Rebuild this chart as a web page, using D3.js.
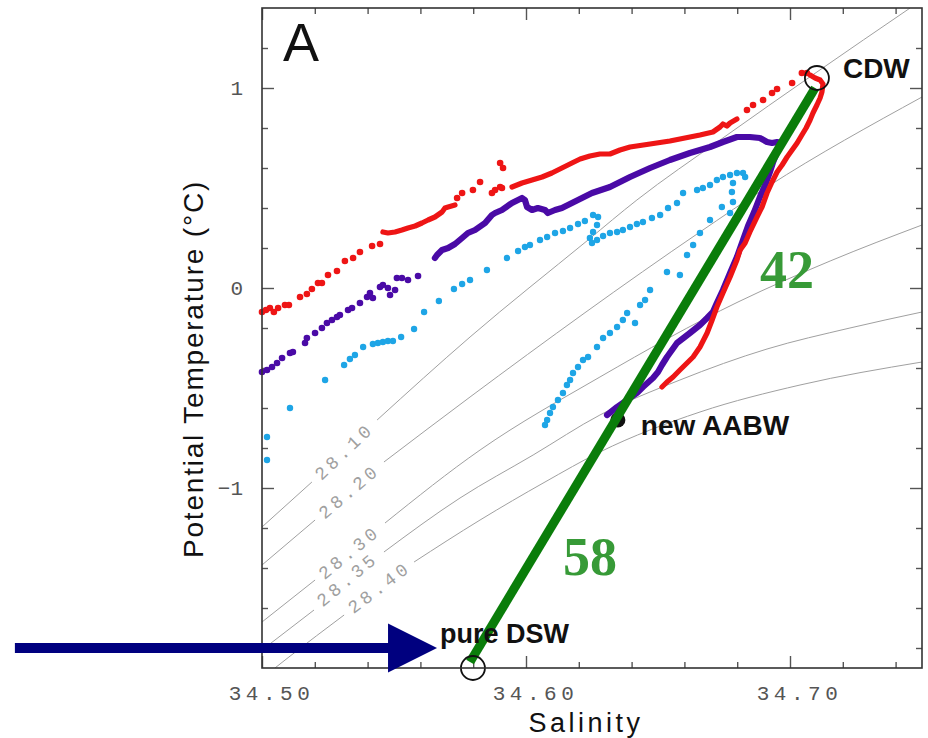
<!DOCTYPE html>
<html>
<head>
<meta charset="utf-8">
<script src="https://cdn.jsdelivr.net/npm/d3@7"></script>
<style>
  body { margin: 0; background: #fff; }
</style>
</head>
<body>
<div id="chart"></div>
<script>
// Theta-S diagram, panel A

// axis ticks
var xMajor = [34.50, 34.60, 34.70];
var xMinor = [34.52, 34.54, 34.56, 34.58, 34.62, 34.64, 34.66, 34.68, 34.72, 34.74];
var yMajor = [-1, 0, 1];
var yMinor = [-1.8, -1.6, -1.4, -1.2, -0.8, -0.6, -0.4, -0.2, 0.2, 0.4, 0.6, 0.8, 1.2];

// isopycnals [salinity, theta], split round the label
var isoLabels = ["28.10", "28.20", "28.30", "28.35", "28.40"];
var isoLower = [
  [[34.5000, -1.195], [34.5189, -0.970]],
  [[34.5000, -1.385], [34.5201, -1.160]],
  [[34.5000, -1.670], [34.5201, -1.460]],
  [[34.5000, -1.810], [34.5197, -1.610]],
  [[34.5049, -1.900], [34.5102, -1.845], [34.5311, -1.635]]
];
var isoUpper = [
  [[34.5436, -0.660], [34.5788, -0.245], [34.6235, 0.240], [34.6420, 0.440], [34.6735, 0.740], [34.7102, 1.080], [34.7455, 1.400]],
  [[34.5462, -0.870], [34.5788, -0.545], [34.6659, 0.280], [34.6913, 0.505], [34.7500, 0.955]],
  [[34.5466, -1.175], [34.5826, -0.810], [34.6280, -0.445], [34.6803, -0.070], [34.7152, 0.135], [34.7500, 0.315]],
  [[34.5462, -1.320], [34.5750, -1.050], [34.6027, -0.835], [34.6280, -0.635], [34.6583, -0.460], [34.6913, -0.305], [34.7227, -0.200], [34.7500, -0.120]],
  [[34.5576, -1.370], [34.5826, -1.160], [34.6072, -0.970], [34.6280, -0.820], [34.6659, -0.620], [34.7038, -0.485], [34.7500, -0.370]]
];
var isoLabelAt = [[34.5314, -0.820], [34.5333, -1.020], [34.5333, -1.325], [34.5326, -1.460], [34.5447, -1.500]];

// red profile
var redDots = [
  [34.5000, -0.120], [34.5015, -0.110], [34.5030, -0.100], [34.5045, -0.120], [34.5061, -0.100],
  [34.5087, -0.085], [34.5102, -0.085], [34.5144, -0.045], [34.5170, -0.030], [34.5189, -0.005],
  [34.5212, 0.025], [34.5227, 0.025], [34.5250, 0.065], [34.5284, 0.085], [34.5314, 0.135],
  [34.5345, 0.150], [34.5371, 0.180], [34.5417, 0.210], [34.5447, 0.220],
  [34.5739, 0.450], [34.5758, 0.475], [34.5799, 0.490], [34.5826, 0.530], [34.5871, 0.475],
  [34.5883, 0.490], [34.5902, 0.505], [34.5909, 0.500], [34.5902, 0.625], [34.5913, 0.600],
  [34.6837, 0.890], [34.6860, 0.915], [34.6898, 0.940], [34.6932, 0.975], [34.6951, 0.995],
  [34.7008, 1.025], [34.7045, 1.075], [34.7064, 1.075]
];
var redTrails = [
  [[34.5458, 0.280], [34.5477, 0.275], [34.5504, 0.280], [34.5530, 0.290], [34.5553, 0.300],
   [34.5580, 0.310], [34.5606, 0.325], [34.5629, 0.340], [34.5655, 0.355], [34.5682, 0.380],
   [34.5693, 0.400], [34.5705, 0.405], [34.5731, 0.415]],
  [[34.5947, 0.505], [34.5985, 0.525], [34.6023, 0.540], [34.6061, 0.555], [34.6098, 0.575],
   [34.6136, 0.600], [34.6174, 0.625], [34.6205, 0.645], [34.6242, 0.660], [34.6280, 0.670],
   [34.6318, 0.670], [34.6356, 0.690], [34.6394, 0.705], [34.6470, 0.720], [34.6545, 0.735],
   [34.6621, 0.755], [34.6659, 0.765], [34.6708, 0.780], [34.6735, 0.805], [34.6746, 0.820],
   [34.6761, 0.810], [34.6773, 0.825], [34.6799, 0.845]],
  [[34.7076, 1.065], [34.7095, 1.050], [34.7114, 1.040], [34.7125, 1.020], [34.7121, 0.980],
   [34.7114, 0.950], [34.7102, 0.915], [34.7087, 0.875], [34.7076, 0.840], [34.7061, 0.800],
   [34.7045, 0.765], [34.7027, 0.725], [34.7008, 0.690], [34.6989, 0.655], [34.6970, 0.615],
   [34.6951, 0.580], [34.6932, 0.530], [34.6913, 0.475], [34.6894, 0.405], [34.6875, 0.355],
   [34.6848, 0.280], [34.6830, 0.225], [34.6811, 0.190], [34.6799, 0.140], [34.6773, 0.055],
   [34.6746, -0.025], [34.6723, -0.095], [34.6705, -0.160], [34.6686, -0.225], [34.6659, -0.295],
   [34.6633, -0.345], [34.6610, -0.375], [34.6583, -0.410], [34.6557, -0.445], [34.6534, -0.470],
   [34.6515, -0.495]]
];

// purple profile
var purpleDots = [
  [34.5000, -0.420], [34.5019, -0.410], [34.5038, -0.395], [34.5057, -0.375], [34.5076, -0.350],
  [34.5106, -0.325], [34.5117, -0.320], [34.5163, -0.275], [34.5170, -0.250], [34.5201, -0.225],
  [34.5227, -0.200], [34.5246, -0.175], [34.5265, -0.160], [34.5284, -0.145], [34.5295, -0.135],
  [34.5326, -0.110], [34.5341, -0.100], [34.5371, -0.075], [34.5398, -0.045], [34.5409, -0.025],
  [34.5420, -0.050], [34.5447, 0.005], [34.5458, 0.015], [34.5477, 0.000], [34.5485, -0.035],
  [34.5504, -0.010], [34.5511, 0.050], [34.5530, 0.050], [34.5553, 0.040], [34.5591, 0.060]
];
var purpleTrail = [
  [34.5655, 0.150], [34.5663, 0.165], [34.5682, 0.190], [34.5705, 0.200], [34.5731, 0.220],
  [34.5758, 0.250], [34.5780, 0.275], [34.5807, 0.290], [34.5845, 0.325], [34.5871, 0.365],
  [34.5883, 0.375], [34.5909, 0.390], [34.5947, 0.425], [34.5985, 0.450], [34.5996, 0.440],
  [34.6004, 0.405], [34.6023, 0.390], [34.6045, 0.400], [34.6072, 0.390], [34.6083, 0.375],
  [34.6110, 0.390], [34.6136, 0.400], [34.6174, 0.425], [34.6212, 0.450], [34.6250, 0.475],
  [34.6318, 0.505], [34.6394, 0.555], [34.6470, 0.600], [34.6545, 0.640], [34.6621, 0.675],
  [34.6697, 0.705], [34.6746, 0.730], [34.6799, 0.755], [34.6848, 0.755], [34.6886, 0.750],
  [34.6913, 0.730], [34.6932, 0.725], [34.6951, 0.730], [34.6962, 0.725], [34.6951, 0.680],
  [34.6936, 0.630], [34.6924, 0.580], [34.6909, 0.525], [34.6886, 0.455], [34.6864, 0.380],
  [34.6841, 0.310], [34.6822, 0.240], [34.6799, 0.155], [34.6773, 0.075], [34.6746, -0.010],
  [34.6723, -0.075], [34.6708, -0.120], [34.6686, -0.150], [34.6659, -0.185], [34.6621, -0.225],
  [34.6572, -0.275], [34.6534, -0.345], [34.6515, -0.385], [34.6500, -0.420], [34.6481, -0.450],
  [34.6443, -0.495], [34.6420, -0.525], [34.6383, -0.560], [34.6345, -0.595], [34.6307, -0.635]
];

// light blue profile
var cyanDots = [
  [34.5019, -0.745], [34.5019, -0.860], [34.5106, -0.600], [34.5239, -0.460], [34.5311, -0.385],
  [34.5333, -0.355], [34.5352, -0.335], [34.5383, -0.295], [34.5420, -0.280], [34.5439, -0.275],
  [34.5458, -0.270], [34.5477, -0.265], [34.5496, -0.265], [34.5527, -0.245], [34.5576, -0.205],
  [34.5614, -0.120], [34.5670, -0.065], [34.5727, -0.005], [34.5758, 0.020], [34.5788, 0.040],
  [34.5852, 0.090], [34.5928, 0.150], [34.5970, 0.185], [34.5996, 0.205], [34.6015, 0.215],
  [34.6053, 0.240], [34.6080, 0.255], [34.6110, 0.275], [34.6140, 0.285], [34.6167, 0.300],
  [34.6197, 0.320], [34.6223, 0.335], [34.6254, 0.365], [34.6273, 0.355], [34.6269, 0.315],
  [34.6254, 0.280], [34.6242, 0.250], [34.6250, 0.225], [34.6269, 0.240], [34.6292, 0.260],
  [34.6318, 0.275], [34.6345, 0.280], [34.6367, 0.290], [34.6394, 0.305], [34.6420, 0.320],
  [34.6443, 0.330], [34.6477, 0.350], [34.6508, 0.365], [34.6538, 0.400], [34.6572, 0.425],
  [34.6595, 0.475], [34.6648, 0.490], [34.6670, 0.500], [34.6697, 0.515], [34.6723, 0.540],
  [34.6746, 0.555], [34.6773, 0.565], [34.6799, 0.575], [34.6822, 0.575], [34.6830, 0.555],
  [34.6784, 0.525], [34.6780, 0.480], [34.6784, 0.430], [34.6773, 0.375], [34.6742, 0.405],
  [34.6697, 0.340], [34.6659, 0.275], [34.6633, 0.215], [34.6610, 0.165], [34.6583, 0.065],
  [34.6534, 0.080], [34.6470, -0.010], [34.6451, -0.060], [34.6432, -0.085], [34.6413, -0.175],
  [34.6383, -0.125], [34.6367, -0.160], [34.6345, -0.195], [34.6318, -0.225], [34.6292, -0.250],
  [34.6269, -0.295], [34.6235, -0.345], [34.6216, -0.360], [34.6197, -0.395], [34.6178, -0.425],
  [34.6167, -0.460], [34.6155, -0.485], [34.6140, -0.525], [34.6121, -0.560], [34.6102, -0.595],
  [34.6091, -0.625], [34.6080, -0.660], [34.6072, -0.685]
];

// end members and mixing line
var cdw = [34.7102, 1.050];
var dsw = [34.5799, -1.900];
var aabw = [34.6348, -0.660];
var mixLine = [[34.5788, -1.870], [34.7095, 1.000]];
var mixShares = [{text: "42", at: [34.6886, 0.000]}, {text: "58", at: [34.6140, -1.435]}];
var arrowLine = [[34.4064, -1.800], [34.5663, -1.800]];

// set the dimensions and margins of the graph
var margin = {top: 8, right: 6, bottom: 70, left: 262},
    width = 660,
    height = 660;

var svg = d3.select("#chart")
  .append("svg")
    .attr("width", 928)
    .attr("height", 738)
  .append("g")
    .attr("transform", "translate(" + margin.left + "," + margin.top + ")");

var x = d3.scaleLinear().domain([34.50, 34.75]).range([0, width]);
var y = d3.scaleLinear().domain([-1.9, 1.4]).range([height, 0]);

svg.append("clipPath").attr("id", "plotclip")
  .append("rect").attr("width", width).attr("height", height);

var tickFont = "Liberation Mono, DejaVu Sans Mono, monospace";

// ticks on all four sides, pointing inward
function ticks(axis, vals, size, transform, fmt) {
  var g = svg.append("g")
    .attr("transform", transform)
    .attr("color", "#555")
    .call(axis.tickValues(vals).tickSize(-size).tickPadding(17).tickFormat(fmt || ""));
  g.select(".domain").remove();
  g.selectAll("line").attr("stroke-width", 1.4);
  return g;
}
var xLab = ticks(d3.axisBottom(x), xMajor, 12, "translate(0," + height + ")", d3.format(".2f"));
ticks(d3.axisBottom(x), xMinor, 6, "translate(0," + height + ")");
ticks(d3.axisTop(x), xMajor, 12, "translate(0,0)");
ticks(d3.axisTop(x), xMinor, 6, "translate(0,0)");
var yLab = ticks(d3.axisLeft(y), yMajor, 12, "translate(0,0)", d3.format("d"));
ticks(d3.axisLeft(y), yMinor, 6, "translate(0,0)");
ticks(d3.axisRight(y), yMajor, 12, "translate(" + width + ",0)");
ticks(d3.axisRight(y), yMinor, 6, "translate(" + width + ",0)");

xLab.selectAll("text")
  .attr("font-family", tickFont).attr("font-size", 21)
  .attr("letter-spacing", "4.5px").attr("fill", "#555").attr("dx", 9);
yLab.selectAll("text")
  .attr("font-family", tickFont).attr("font-size", 21).attr("fill", "#555").attr("dx", -2);

// isopycnals
var iso = svg.append("g").attr("clip-path", "url(#plotclip)");
var isoLine = d3.line()
  .x(function(d) { return x(d[0]); })
  .y(function(d) { return y(d[1]); })
  .curve(d3.curveMonotoneX);

isoLabels.forEach(function(lab, i) {
  [isoLower[i], isoUpper[i]].forEach(function(seg) {
    iso.append("path").attr("d", isoLine(seg))
      .attr("fill", "none").attr("stroke", "#a0a0a0").attr("stroke-width", 1);
  });
  var a = isoLower[i][isoLower[i].length - 1], b = isoUpper[i][0];
  var ang = Math.atan2(y(b[1]) - y(a[1]), x(b[0]) - x(a[0])) * 180 / Math.PI;
  svg.append("text")
    .attr("transform", "translate(" + x(isoLabelAt[i][0]) + "," + y(isoLabelAt[i][1]) + ") rotate(" + ang + ")")
    .attr("text-anchor", "middle")
    .attr("dominant-baseline", "central")
    .attr("font-family", tickFont)
    .attr("font-size", 18)
    .attr("letter-spacing", "4px")
    .attr("fill", "#a0a0a0")
    .text(lab);
});

// profiles
var trailLine = d3.line()
  .x(function(d) { return x(d[0]); })
  .y(function(d) { return y(d[1]); });

function dots(data, color, r) {
  svg.append("g").selectAll("circle")
    .data(data)
    .enter()
    .append("circle")
      .attr("cx", function(d) { return x(d[0]); })
      .attr("cy", function(d) { return y(d[1]); })
      .attr("r", r)
      .attr("fill", color);
}
function trails(list, color, w) {
  svg.append("g").selectAll("path")
    .data(list)
    .enter()
    .append("path")
      .attr("d", trailLine)
      .attr("fill", "none")
      .attr("stroke", color)
      .attr("stroke-width", w)
      .attr("stroke-linejoin", "round")
      .attr("stroke-linecap", "round");
}

var cRed = "#ee1515", cPurple = "#4a0aa6", cCyan = "#1ea5e6";
dots(cyanDots, cCyan, 3.2);
dots(purpleDots, cPurple, 3.3);
trails([purpleTrail], cPurple, 6.2);
dots(redDots, cRed, 3.3);
trails(redTrails, cRed, 5.2);

// new AABW
svg.append("circle")
  .attr("cx", x(aabw[0])).attr("cy", y(aabw[1])).attr("r", 7.5)
  .attr("fill", "#111");

// mixing line
svg.append("path")
  .attr("d", trailLine(mixLine))
  .attr("stroke", "#0a7d0a").attr("stroke-width", 9).attr("fill", "none");

// end member circles
[cdw, dsw].forEach(function(p) {
  svg.append("circle")
    .attr("cx", x(p[0])).attr("cy", y(p[1])).attr("r", 12)
    .attr("fill", "none").attr("stroke", "#111").attr("stroke-width", 1.8);
});

// frame
svg.append("rect")
  .attr("width", width).attr("height", height)
  .attr("fill", "none").attr("stroke", "#333").attr("stroke-width", 1.6);

// arrow pointing at pure DSW
var ax0 = x(arrowLine[0][0]), ax1 = x(arrowLine[1][0]), ay = y(arrowLine[1][1]);
svg.append("path")
  .attr("d", "M" + ax0 + "," + (ay - 5) + "H" + (ax1 - 49) + "V" + (ay - 24.5) +
             "L" + ax1 + "," + ay + "L" + (ax1 - 49) + "," + (ay + 24.5) +
             "V" + (ay + 5) + "H" + ax0 + "Z")
  .attr("fill", "#00007f");

// annotations
var bold = "Liberation Sans, Arial, sans-serif";
svg.append("text").attr("x", x(cdw[0]) + 26).attr("y", y(cdw[1]))
  .attr("font-family", bold).attr("font-weight", "bold").attr("font-size", 28)
  .attr("fill", "#111").text("CDW");
svg.append("text").attr("x", x(aabw[0]) + 23).attr("y", y(aabw[1]) + 15)
  .attr("font-family", bold).attr("font-weight", "bold").attr("font-size", 28)
  .attr("fill", "#111").text("new AABW");
svg.append("text").attr("x", x(dsw[0]) - 33).attr("y", y(dsw[1]) - 25)
  .attr("font-family", bold).attr("font-weight", "bold").attr("font-size", 27)
  .attr("fill", "#111").text("pure DSW");

mixShares.forEach(function(m) {
  svg.append("text").attr("x", x(m.at[0])).attr("y", y(m.at[1]))
    .attr("font-family", "Liberation Serif, Times New Roman, serif")
    .attr("font-weight", "bold").attr("font-size", 54)
    .attr("fill", "#379a37").text(m.text);
});

svg.append("text").attr("x", 21).attr("y", 53)
  .attr("font-family", bold).attr("font-size", 54).attr("fill", "#111").text("A");

// axis titles
svg.append("text")
  .attr("x", 586 - margin.left).attr("y", 732 - margin.top)
  .attr("text-anchor", "middle")
  .attr("font-family", bold).attr("font-size", 27).attr("letter-spacing", "3.5px")
  .attr("fill", "#111").text("Salinity");
svg.append("text")
  .attr("transform", "translate(" + (203 - margin.left) + "," + (369 - margin.top) + ") rotate(-90)")
  .attr("text-anchor", "middle")
  .attr("font-family", bold).attr("font-size", 28).attr("letter-spacing", "1.8px")
  .attr("fill", "#111").text("Potential Temperature (\u00B0C)");
</script>
</body>
</html>
